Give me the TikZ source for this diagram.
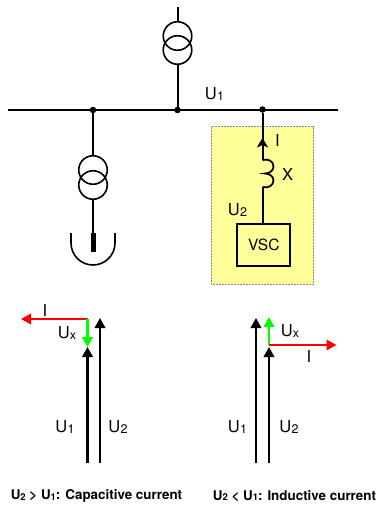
\documentclass[tikz,border=0pt]{standalone}
\usepackage{fontspec}
\setmainfont{TeX Gyre Heros}
\usetikzlibrary{arrows.meta}
\definecolor{panel}{RGB}{255,255,153}
\newcommand{\lab}[2]{#1\kern0.02em\raisebox{-0.04em}{\fontsize{12.5}{12.5}\selectfont #2}}
\newcommand{\capsub}[1]{\raisebox{-0.04em}{\fontsize{9.5}{10}\selectfont #1}}
\tikzset{
  x=1pt,y=-1pt,
  wire/.style={line width=2pt,black},
  tcoil/.style={circle,draw=black,line width=1.6pt,minimum size=28.5pt,inner sep=0pt,fill=none},
  junction/.style={circle,fill=black,minimum size=6.5pt,inner sep=0pt},
  lbl/.style={font=\fontsize{16.5}{16.5}\selectfont,inner sep=0pt},
  capt/.style={font=\fontsize{13.4}{14}\selectfont\bfseries,inner sep=0pt},
  phasor/.style={line width=2.2pt,-{Triangle[width=10.5pt,length=10pt]}},
}
\begin{document}
\begin{tikzpicture}
\useasboundingbox (0,0) rectangle (376,506);
% panel
\path[fill=panel,draw=black!45,line width=0.5pt,densely dotted] (211.3,126.5) rectangle (313.7,284);
% bus
\coordinate (busL) at (8,109.5);
\coordinate (busR) at (338,109.5);
\draw[wire] (busL) -- (busR);
\node[junction] (j1) at (93,110) {};
\node[junction] (j2) at (177.5,110) {};
\node[junction] (j3) at (262.5,109.5) {};
% top transformer
\coordinate (topEnd) at (177.5,7);
\node[tcoil] (t1a) at (177.5,36) {};
\node[tcoil] (t1b) at (177.5,50) {};
\draw[wire] (topEnd) -- (t1a.north);
\draw[wire] (t1b.south) -- (j2);
% left transformer
\node[tcoil] (t2a) at (93,170) {};
\node[tcoil] (t2b) at (93,185) {};
\draw[wire] (j1) -- (t2a.north);
\coordinate (genTop) at (93,233);
\coordinate (genBot) at (93,252);
\draw[wire] (t2b.south) -- (genTop);
\draw[black,line width=5pt] (genTop) -- (genBot);
\coordinate (cupL) at (71,233);
\draw[black,line width=1.6pt] (cupL) -- ++(0,10) arc[start angle=180,end angle=360,radius=22,y radius=-22] -- ++(0,-10);
% VSC branch
\node[draw=black,line width=2pt,minimum width=53pt,minimum height=41.5pt,inner sep=0pt,font=\fontsize{15.5}{16}\selectfont] (vsc) at (263.8,245) {VSC};
\coordinate (indT) at (262.5,160);
\coordinate (indB) at (262.5,187);
\draw[wire] (j3) -- (indT);
\draw[black,line width=1pt,fill=black] (262.5,139) -- (267,146.5) -- (262.5,144.5) -- (258,146.5) -- cycle;
\draw[wire] (indB) -- (vsc.north -| indB);
\draw[black,line width=1.8pt] (indT) .. controls (268,158.5) and (273.5,161) .. (273.5,166.5) .. controls (273.5,171) and (269,173.5) .. (265,173.5) .. controls (269,173.5) and (273.5,176) .. (273.5,180.5) .. controls (273.5,185.5) and (268,188.5) .. (indB);
\node[lbl] (lU1) at (214.5,94) {\lab{U}{1}};
\node[lbl] (lI) at (277.5,140) {I};
\node[lbl] (lX) at (287.5,174.5) {X};
\node[lbl] (lU2) at (237.5,210) {\lab{U}{2}};
% left phasors
\coordinate (a1) at (87.5,463); \coordinate (a1t) at (87.5,347);
\coordinate (a2) at (100,463); \coordinate (a2t) at (100,318);
\coordinate (ao) at (87.5,319); \coordinate (ai) at (21,319);
\draw[phasor] (a1) -- (a1t);
\draw[phasor] (a2) -- (a2t);
\draw[phasor,red] (ao) -- (ai);
\draw[phasor,green] (ao) -- (a1t);
\node[lbl] (lIa) at (45,310) {I};
\node[lbl] (lUxa) at (67,333) {\lab{U}{x}};
\node[lbl] (lU1a) at (65,427) {\lab{U}{1}};
\node[lbl] (lU2a) at (118,427) {\lab{U}{2}};
% right phasors
\coordinate (b1) at (256,463); \coordinate (b1t) at (256,318);
\coordinate (b2) at (269,463); \coordinate (b2t) at (269,347);
\coordinate (bo) at (269,345); \coordinate (bg) at (269,317); \coordinate (bi) at (336.5,345);
\draw[phasor] (b1) -- (b1t);
\draw[phasor,green] (bo) -- (bg);
\draw[phasor,red] (bo) -- (bi);
\draw[phasor] (b2) -- (b2t);
\node[lbl] (lUxb) at (290,331) {\lab{U}{x}};
\node[lbl] (lIb) at (309,356) {I};
\node[lbl] (lU1b) at (237.5,427) {\lab{U}{1}};
\node[lbl] (lU2b) at (289,427) {\lab{U}{2}};
% captions
\node[capt] (c1) at (96.5,496) {U\capsub{2} > U\capsub{1}: Capacitive current};
\node[capt] (c2) at (294.5,496) {U\capsub{2} < U\capsub{1}: Inductive current};
\end{tikzpicture}
\end{document}
